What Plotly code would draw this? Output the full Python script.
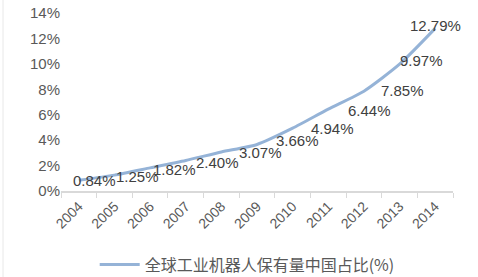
import plotly.graph_objects as go

years = ["2004", "2005", "2006", "2007", "2008", "2009", "2010", "2011", "2012", "2013", "2014"]
share = [0.84, 1.25, 1.82, 2.40, 3.07, 3.66, 4.94, 6.44, 7.85, 9.97, 12.79]
series_name = "全球工业机器人保有量中国占比(%)"
y_ticks = [0, 2, 4, 6, 8, 10, 12, 14]

# label placement offsets (px) - styling only
label_dx = [-8, 0, 1, 8, 16, 17, 16, 18, 15, -2, -27]
label_dy = [0, -1, -2, -2, -1, 4, 0, -1, 1, 4, 3]

fig = go.Figure()
fig.add_trace(go.Scatter(
    x=years, y=share, mode="lines", name=series_name,
    line=dict(color="#95B3D7", width=3, shape="spline", smoothing=0.6),
    hoverinfo="skip",
))

for i, (v, dx, dy) in enumerate(zip(share, label_dx, label_dy)):
    fig.add_annotation(
        x=i, y=v, text=f"{v:.2f}%", showarrow=False,
        xanchor="left", yanchor="middle", xshift=dx, yshift=dy,
        font=dict(family="Liberation Sans, Arial", size=15, color="#404040"),
    )

# faint chart-area border at the left edge
fig.add_shape(type="line", xref="paper", yref="paper",
              x0=-58/392, x1=-58/392, y0=-86/178, y1=191/178,
              line=dict(color="#E8E8E8", width=1))

fig.update_layout(
    width=478, height=277,
    margin=dict(l=61, r=25, t=13, b=86, autoexpand=False),
    paper_bgcolor="white", plot_bgcolor="white",
    showlegend=True,
    legend=dict(
        orientation="h", x=0.475, xanchor="center", y=0.045, yanchor="middle",
        yref="container", itemwidth=40,
        font=dict(family="Noto Sans CJK SC", size=16, color="#595959"),
    ),
    font=dict(family="Liberation Sans, Arial", color="#595959"),
)

fig.update_xaxes(
    type="category", range=[-0.5, 10.5],
    showline=True, linecolor="#D9D9D9", linewidth=1.5,
    ticks="outside", tickson="boundaries", ticklen=5, tickcolor="#D9D9D9",
    tickangle=-45, tickfont=dict(size=14, color="#595959"),
    showgrid=False, zeroline=False, automargin=False,
)
fig.update_yaxes(
    range=[0, 14], tickvals=y_ticks, ticktext=[f"{t}%" for t in y_ticks],
    tickfont=dict(size=15, color="#595959"),
    showgrid=False, zeroline=False, showline=False, ticks="", automargin=False,
)

fig.write_html("out.html")
